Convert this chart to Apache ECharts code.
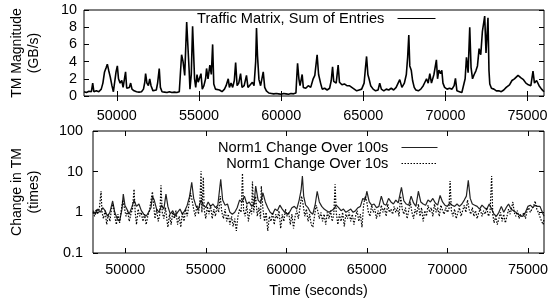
<!DOCTYPE html>
<html>
<head>
<meta charset="utf-8">
<script src="https://cdn.jsdelivr.net/npm/echarts@6/dist/echarts.min.js"></script>
<style>
  html, body { margin: 0; padding: 0; background: #fff; }
  #chart { width: 551px; height: 303px; }
</style>
</head>
<body>
<div id="chart"></div>
<script>
// Traffic matrix magnitude (top) and relative change (bottom, log scale)

const FONT = "'Liberation Sans', Arial, sans-serif";

const xTickValues = [50000, 55000, 60000, 65000, 70000, 75000];
const timeRange = [48000, 76000];

// [time (s), GB/s]
const tmSum = [
  [48000,0.5],[48150,0.4],[48300,0.55],[48450,0.5],[48530,1.5],[48600,0.5],[48750,0.6],[48900,0.5],
  [49050,0.8],[49150,1.5],[49250,2.8],[49350,3.3],[49420,3.7],[49500,3.0],[49600,2.2],[49700,1.2],
  [49790,0.5],[49880,1.8],[49950,2.8],[50030,3.5],[50100,2.0],[50200,1.5],[50300,1.8],[50380,1.0],
  [50460,0.9],[50530,2.8],[50600,0.9],[50700,0.8],[50760,1.0],[50840,1.5],[50920,0.8],[51050,0.6],
  [51200,0.5],[51350,0.45],[51500,0.5],[51620,0.8],[51700,1.6],[51750,2.6],[51830,1.5],[51920,1.2],
  [52000,2.0],[52080,1.2],[52200,0.6],[52300,0.8],[52400,0.7],[52480,1.5],[52580,3.2],[52650,1.0],
  [52750,0.5],[52900,0.45],[53050,0.4],[53200,0.5],[53350,0.4],[53500,0.45],[53650,0.4],[53800,0.5],
  [53880,3.0],[53940,4.8],[54030,4.0],[54130,2.4],[54200,6.0],[54250,8.6],[54320,8.5],[54400,3.0],
  [54450,0.8],[54530,2.5],[54610,8.1],[54680,8.3],[54730,2.0],[54800,1.0],[54880,2.5],[54950,1.6],
  [55050,1.7],[55120,2.6],[55200,0.8],[55300,1.2],[55400,2.0],[55460,3.2],[55550,2.0],[55660,3.6],
  [55750,2.5],[55830,6.0],[55900,1.4],[56000,0.8],[56100,0.6],[56250,0.7],[56400,0.5],[56550,0.8],
  [56650,1.2],[56780,2.0],[56850,1.0],[56950,1.5],[57050,1.0],[57150,1.8],[57230,3.9],[57320,1.2],
  [57420,1.5],[57530,2.6],[57620,1.0],[57750,1.2],[57890,2.4],[57980,1.0],[58100,1.2],[58250,1.6],
  [58350,1.2],[58450,4.0],[58500,7.9],[58560,4.7],[58650,1.9],[58750,1.2],[58910,2.8],[59000,1.0],
  [59100,0.6],[59250,0.35],[59400,0.3],[59550,0.25],[59700,0.3],[59850,0.25],[60000,0.2],[60150,0.3],
  [60300,0.25],[60450,0.2],[60600,0.3],[60750,0.25],[60900,0.35],[60960,2.5],[61000,3.8],[61080,2.0],
  [61150,1.2],[61280,2.5],[61350,1.0],[61500,0.9],[61650,1.2],[61800,1.0],[61950,2.0],[62050,2.4],
  [62190,4.8],[62280,2.5],[62400,1.5],[62500,0.8],[62650,0.9],[62800,0.7],[62950,0.9],[63050,1.8],
  [63130,3.4],[63200,1.7],[63350,1.5],[63470,3.6],[63550,1.6],[63700,1.3],[63850,1.4],[64000,1.2],
  [64150,1.2],[64300,1.0],[64450,0.8],[64600,0.6],[64750,0.7],[64900,0.8],[65050,1.5],[65120,3.0],
  [65200,4.6],[65280,2.5],[65350,2.0],[65450,1.2],[65600,0.8],[65750,0.6],[65900,0.7],[66000,1.5],
  [66100,0.8],[66250,0.6],[66400,0.8],[66550,0.7],[66700,0.9],[66850,0.7],[67000,1.0],[67100,0.8],
  [67220,1.9],[67350,1.0],[67500,1.5],[67620,2.5],[67700,4.5],[67770,7.1],[67830,3.5],[67920,3.0],
  [68000,1.8],[68100,1.0],[68200,0.7],[68350,0.6],[68500,0.8],[68650,1.2],[68750,1.6],[68850,2.0],
  [68950,1.5],[69050,2.6],[69150,1.5],[69300,2.5],[69450,4.2],[69520,2.0],[69600,3.0],[69700,2.6],
  [69780,3.0],[69850,1.5],[69950,1.0],[70100,0.8],[70250,0.9],[70400,0.8],[70530,1.2],[70610,2.05],
  [70700,0.6],[70850,0.5],[71000,0.4],[71120,0.5],[71200,2.0],[71280,4.5],[71380,2.7],[71480,8.0],
  [71560,3.3],[71650,2.0],[71750,2.5],[71850,2.9],[71950,3.5],[72050,5.5],[72150,4.8],[72250,7.5],
  [72390,9.3],[72470,5.0],[72590,9.1],[72650,3.0],[72700,1.4],[72800,0.9],[72950,0.8],[73100,0.6],
  [73250,0.6],[73400,0.5],[73550,0.7],[73700,1.0],[73800,0.8],[73900,1.3],[74050,1.8],[74200,2.0],
  [74420,2.4],[74600,2.1],[74750,1.9],[74900,1.5],[75050,1.3],[75200,1.2],[75330,2.9],[75420,1.5],
  [75550,1.8],[75700,1.2],[75850,0.8],[76000,0.5]
];

// [time (s), change ratio] over 100 s windows
const norm100 = [
  [48000,1.1],[48150,0.9],[48300,1.2],[48450,1.0],[48600,1.3],[48750,1.1],[48900,0.8],[49050,1.0],
  [49220,1.9],[49350,1.0],[49500,0.7],[49650,0.6],[49800,1.2],[49880,2.8],[49980,1.5],[50100,1.2],
  [50250,0.9],[50400,1.3],[50550,2.0],[50700,1.4],[50850,1.6],[51000,1.1],[51150,0.9],[51300,0.8],
  [51450,1.0],[51600,1.3],[51690,2.5],[51800,2.0],[51950,1.2],[52100,1.0],[52250,1.5],[52400,1.2],
  [52530,2.8],[52650,1.4],[52800,0.9],[52950,1.1],[53100,0.8],[53250,1.0],[53400,1.2],[53550,0.9],
  [53700,1.1],[53850,1.5],[54000,2.5],[54130,5.5],[54250,2.2],[54400,1.4],[54550,1.2],[54700,2.0],
  [54850,1.5],[55000,1.3],[55150,1.8],[55300,1.4],[55450,1.6],[55600,1.3],[55750,1.5],[55930,6.5],
  [56050,2.0],[56200,1.5],[56350,1.6],[56500,1.0],[56650,0.9],[56800,1.0],[56950,1.3],[57100,2.0],
  [57250,1.8],[57400,2.5],[57550,1.6],[57700,1.8],[57850,1.4],[58000,1.6],[58100,4.4],[58250,2.0],
  [58400,1.7],[58550,3.0],[58700,1.8],[58850,1.3],[59000,1.0],[59150,0.9],[59300,1.2],[59450,1.1],
  [59600,1.5],[59750,1.2],[59900,1.0],[60050,0.9],[60200,1.0],[60350,1.3],[60500,1.4],[60650,1.2],
  [60800,2.0],[60920,3.5],[61000,7.8],[61080,2.5],[61200,1.5],[61350,1.3],[61500,1.0],[61650,0.9],
  [61800,1.6],[61920,3.3],[62050,1.8],[62200,1.4],[62350,1.2],[62500,1.1],[62650,1.0],[62800,1.1],
  [62950,1.2],[63100,1.5],[63250,1.3],[63400,1.1],[63550,1.2],[63700,1.0],[63850,1.1],[64000,1.2],
  [64150,1.0],[64300,1.1],[64450,1.3],[64600,1.4],[64750,2.2],[64900,2.0],[65000,3.3],[65150,1.8],
  [65300,1.5],[65450,1.6],[65600,1.3],[65750,1.4],[65900,2.5],[66050,1.6],[66200,1.5],[66350,2.2],
  [66500,1.8],[66650,1.6],[66800,2.0],[66950,1.7],[67150,4.1],[67300,1.9],[67450,1.6],[67600,1.5],
  [67750,2.5],[67900,1.7],[68050,1.4],[68200,3.3],[68350,1.8],[68500,1.6],[68650,1.5],[68800,2.0],
  [68950,1.8],[69100,2.2],[69250,1.7],[69400,1.5],[69550,2.6],[69700,1.8],[69850,1.5],[70000,1.4],
  [70150,1.7],[70300,1.5],[70450,1.4],[70600,1.6],[70750,1.4],[70900,1.6],[71050,2.0],[71180,2.5],
  [71300,6.1],[71420,2.2],[71550,1.6],[71700,1.5],[71850,1.4],[72000,1.2],[72150,1.5],[72300,1.3],
  [72450,1.2],[72600,1.6],[72750,1.2],[72900,0.9],[73050,0.8],[73200,1.0],[73350,1.4],[73500,1.0],
  [73650,1.3],[73800,1.6],[73950,1.2],[74100,1.1],[74250,1.0],[74400,0.9],[74550,0.8],[74700,0.8],
  [74850,1.0],[75000,1.4],[75150,1.5],[75300,1.3],[75450,1.5],[75600,1.4],[75750,1.4],[75900,1.0],
  [76000,0.8]
];

// [time (s), change ratio] over 10 s windows
const norm10 = [
  [48000,1.0],[48100,0.8],[48200,1.2],[48300,0.9],[48400,1.3],[48500,3.3],[48560,1.0],[48650,0.7],
  [48750,1.1],[48850,0.5],[48950,0.9],[49050,0.6],[49150,1.2],[49250,1.6],[49350,0.8],[49450,0.5],
  [49550,0.9],[49650,0.55],[49750,1.1],[49850,2.0],[49950,1.3],[50050,0.8],[50150,1.1],[50250,0.6],
  [50350,0.9],[50450,1.2],[50550,3.7],[50620,1.0],[50700,0.5],[50800,1.2],[50900,0.8],[51000,1.0],
  [51100,0.6],[51200,0.9],[51300,0.5],[51400,0.8],[51500,1.1],[51600,1.0],[51690,3.2],[51770,1.4],
  [51850,0.7],[51950,1.2],[52050,0.6],[52150,0.9],[52220,4.6],[52300,1.0],[52400,0.7],[52500,1.3],
  [52600,0.6],[52650,0.43],[52750,0.9],[52850,0.5],[52950,1.0],[53050,0.7],[53150,1.1],[53250,0.5],
  [53350,0.8],[53450,0.43],[53550,1.0],[53650,0.6],[53750,1.2],[53850,0.8],[53950,1.5],[54050,3.0],
  [54150,2.0],[54250,1.2],[54350,0.8],[54450,1.5],[54550,0.9],[54640,2.0],[54710,10.3],[54760,1.0],
  [54850,7.3],[54900,1.2],[55000,0.7],[55100,1.4],[55200,0.9],[55300,1.5],[55400,0.7],[55500,1.2],
  [55600,0.8],[55700,1.4],[55800,1.0],[55900,2.5],[56000,1.0],[56100,0.7],[56200,1.2],[56300,0.6],
  [56400,0.9],[56500,0.5],[56600,0.8],[56700,0.45],[56800,0.7],[56900,0.35],[57000,0.8],[57100,1.2],
  [57200,1.0],[57280,9.1],[57350,1.1],[57450,0.8],[57550,1.5],[57650,0.6],[57750,1.2],[57850,0.9],
  [57900,5.7],[57980,1.0],[58100,2.5],[58200,0.8],[58300,1.3],[58400,0.7],[58450,4.4],[58550,1.2],
  [58650,0.6],[58750,1.0],[58850,0.35],[58950,0.8],[59050,0.6],[59150,1.0],[59250,0.5],[59350,0.9],
  [59450,0.7],[59550,1.1],[59650,0.4],[59750,0.9],[59850,0.6],[59950,1.2],[60050,0.8],[60150,1.0],
  [60250,0.5],[60350,0.9],[60450,0.4],[60550,0.8],[60650,1.1],[60750,0.7],[60850,1.3],[60950,2.5],
  [61050,1.5],[61150,0.8],[61250,1.2],[61350,0.6],[61450,0.9],[61550,0.5],[61650,0.43],[61750,0.8],
  [61850,1.5],[61950,1.1],[62050,0.7],[62150,1.0],[62250,0.6],[62350,0.9],[62450,0.5],[62550,1.0],
  [62650,0.7],[62750,1.1],[62850,0.6],[62950,0.9],[63030,4.9],[63100,1.0],[63200,0.5],[63300,0.9],
  [63400,0.6],[63500,1.0],[63600,0.45],[63700,0.9],[63800,0.7],[63900,1.0],[64000,0.6],[64100,0.9],
  [64200,0.5],[64300,0.8],[64400,1.1],[64500,0.6],[64600,0.9],[64700,0.43],[64800,1.5],[64900,2.5],
  [65000,1.8],[65100,1.0],[65200,0.8],[65300,1.5],[65400,1.0],[65500,1.2],[65600,0.7],[65700,1.1],
  [65800,0.8],[65900,1.5],[66000,1.0],[66100,1.3],[66200,0.8],[66300,1.6],[66400,1.0],[66500,1.2],
  [66600,0.9],[66700,1.4],[66800,1.0],[66900,1.3],[67000,0.8],[67100,2.5],[67200,1.2],[67300,0.9],
  [67400,1.3],[67500,0.7],[67600,1.1],[67700,1.8],[67800,1.0],[67900,0.7],[68000,1.2],[68100,0.9],
  [68200,1.6],[68300,0.8],[68400,1.3],[68500,0.6],[68600,1.1],[68700,0.8],[68800,1.5],[68900,1.0],
  [69000,1.3],[69100,0.8],[69200,1.6],[69300,1.0],[69400,1.3],[69500,0.8],[69600,1.5],[69700,1.1],
  [69800,0.9],[69900,1.3],[70000,1.0],[70100,1.2],[70170,5.9],[70250,1.1],[70350,0.8],[70450,1.2],
  [70550,0.7],[70650,1.0],[70750,1.3],[70850,0.8],[70950,1.1],[71050,1.5],[71150,1.0],[71250,2.0],
  [71350,1.2],[71450,0.9],[71550,1.3],[71650,0.8],[71750,1.1],[71850,0.7],[71950,1.0],[72050,1.2],
  [72150,0.8],[72250,1.1],[72350,0.9],[72450,1.3],[72550,0.8],[72650,1.0],[72750,7.8],[72820,0.9],
  [72900,0.55],[73000,0.8],[73100,0.5],[73200,0.7],[73300,1.0],[73400,0.6],[73500,0.9],[73600,0.55],
  [73700,0.8],[73800,1.2],[73900,0.9],[74070,1.8],[74150,1.0],[74250,0.8],[74350,1.1],[74450,0.7],
  [74550,0.9],[74650,0.8],[74750,1.0],[74850,0.7],[74950,1.1],[75050,1.3],[75150,1.0],[75250,1.2],
  [75350,1.4],[75450,1.9],[75550,1.2],[75650,1.0],[75750,0.9],[75850,0.6],[75950,0.5],[76000,0.7]
];

const labelStyle = { color: '#000', fontFamily: FONT, fontSize: 14.4 };
const legendText = { color: '#000', fontFamily: FONT, fontSize: 14.6 };

// bottom axis with labels + mirrored top axis carrying only inward ticks
function timeAxes(gridIndex, margin) {
  const base = {
    type: 'value', gridIndex: gridIndex,
    min: timeRange[0], max: timeRange[1],
    axisLine: { show: false },
    axisTick: { show: true, inside: true, length: 5, customValues: xTickValues, lineStyle: { color: '#000' } },
    splitLine: { show: false }
  };
  return [
    Object.assign({}, base, {
      position: 'bottom',
      axisLabel: { show: true, customValues: xTickValues, margin: margin, formatter: v => String(v), ...labelStyle }
    }),
    Object.assign({}, base, { position: 'top', axisLabel: { show: false } })
  ];
}

const topY = {
  type: 'value', gridIndex: 0, min: 0, max: 10, interval: 2,
  axisLine: { show: false },
  axisTick: { show: true, inside: true, length: 5, lineStyle: { color: '#000' } },
  splitLine: { show: false }
};
const botY = {
  type: 'log', logBase: 10, gridIndex: 1, min: 0.1, max: 100,
  axisLine: { show: false },
  axisTick: { show: true, inside: true, length: 5, lineStyle: { color: '#000' } },
  splitLine: { show: false }
};

const xBottom = timeAxes(1, 10);
xBottom[0].name = 'Time (seconds)';
xBottom[0].nameLocation = 'middle';
xBottom[0].nameGap = 31;
xBottom[0].nameTextStyle = labelStyle;

function legendFor(name, right, top, width) {
  return {
    data: [name], right: right, top: top, align: 'right',
    itemWidth: width, itemHeight: 14, padding: 0,
    itemStyle: { opacity: 0 },
    lineStyle: { width: 1 },
    formatter: n => n + '  ',
    textStyle: legendText
  };
}

const chart = echarts.init(document.getElementById('chart'), null, { renderer: 'canvas' });

chart.setOption({
  animation: false,
  backgroundColor: '#fff',
  grid: [
    { left: 84, top: 10, width: 460, height: 86, show: true, borderColor: '#000', borderWidth: 1, backgroundColor: 'transparent' },
    { left: 93, top: 131, width: 451, height: 122, show: true, borderColor: '#000', borderWidth: 1, backgroundColor: 'transparent' }
  ],
  xAxis: timeAxes(0, 13).concat(xBottom),
  yAxis: [
    Object.assign({}, topY, { position: 'left', axisLabel: { show: true, margin: 7, ...labelStyle } }),
    Object.assign({}, topY, { position: 'right', axisLabel: { show: false } }),
    Object.assign({}, botY, { position: 'left', axisLabel: { show: true, margin: 10, ...labelStyle } }),
    Object.assign({}, botY, { position: 'right', axisLabel: { show: false } })
  ],
  legend: [
    legendFor('Traffic Matrix, Sum of Entries', 115, 11, 38),
    legendFor('Norm1 Change Over 100s', 113, 140, 36),
    legendFor('Norm1 Change Over 10s', 113, 156, 36)
  ],
  graphic: [
    {
      type: 'text', x: 26, y: 53, rotation: Math.PI / 2,
      style: { text: 'TM Magnitude\n(GB/s)', align: 'center', verticalAlign: 'middle',
        font: '14px ' + FONT, fill: '#000', lineHeight: 17 }
    },
    {
      type: 'text', x: 26, y: 192, rotation: Math.PI / 2,
      style: { text: 'Change in TM\n(times)', align: 'center', verticalAlign: 'middle',
        font: '14px ' + FONT, fill: '#000', lineHeight: 17 }
    }
  ],
  series: [
    {
      name: 'Traffic Matrix, Sum of Entries', type: 'line', xAxisIndex: 0, yAxisIndex: 0,
      data: tmSum, symbol: 'none', lineStyle: { color: '#000', width: 1.6 }, itemStyle: { color: '#000' }
    },
    {
      name: 'Norm1 Change Over 100s', type: 'line', xAxisIndex: 2, yAxisIndex: 2,
      data: norm100, symbol: 'none', lineStyle: { color: '#222', width: 1.2 }, itemStyle: { color: '#222' }
    },
    {
      name: 'Norm1 Change Over 10s', type: 'line', xAxisIndex: 2, yAxisIndex: 2,
      data: norm10, symbol: 'none', lineStyle: { color: '#000', width: 1.2, type: [1.5, 1.5] }, itemStyle: { color: '#000' }
    }
  ]
});
</script>
</body>
</html>
